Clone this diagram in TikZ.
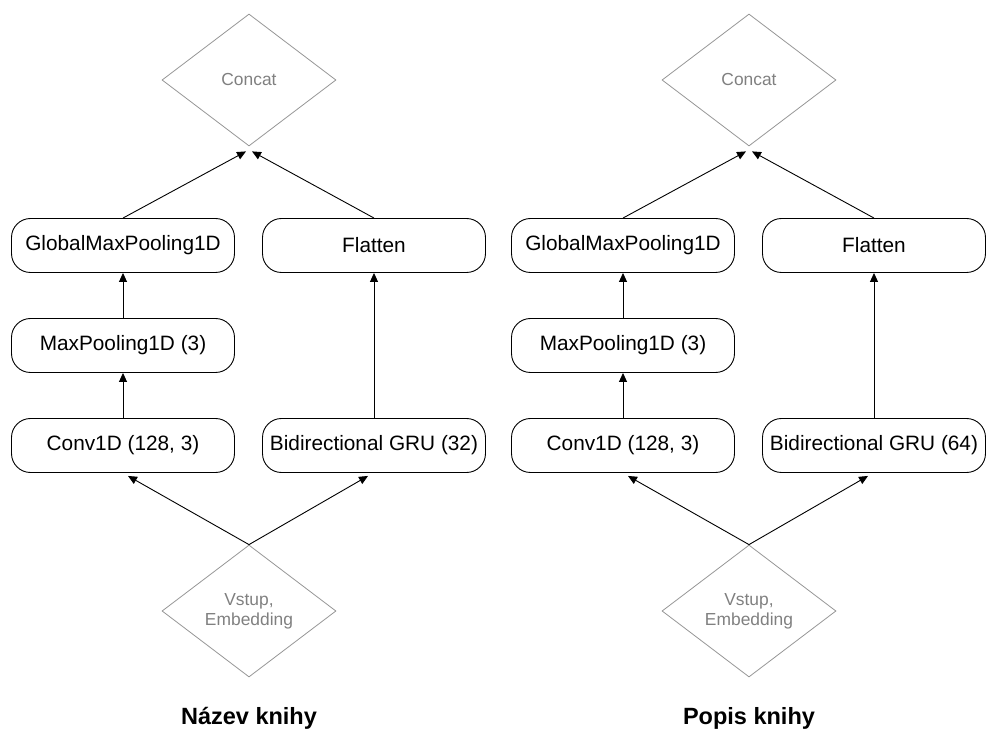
\documentclass[tikz,border=0pt]{standalone}
\usepackage{fontspec}
\setmainfont{Liberation Sans}
\usetikzlibrary{shapes.geometric,arrows.meta}
\definecolor{softgray}{RGB}{150,150,150}
\definecolor{labelgray}{RGB}{128,128,128}
\begin{document}
\begin{tikzpicture}[x=1pt,y=-1pt,
  layer/.style={draw=black,line width=0.9pt,rounded corners=19pt,
    minimum width=223pt,minimum height=54pt,inner sep=0pt,
    font=\fontsize{20.8}{24}\selectfont},
  junction/.style={draw=softgray,line width=0.8pt,diamond,shape aspect=1.32,
    minimum width=174pt,minimum height=132pt,inner sep=0pt,
    text=labelgray,align=center,font=\fontsize{17.4}{20}\selectfont},
  flow/.style={line width=0.9pt,-{Triangle[length=9pt,width=8pt]}},
  caption/.style={font=\fontsize{23.5}{27}\selectfont\bfseries}]
\useasboundingbox (0,0) rectangle (989,735);
\foreach \p/\dx/\units/\title in {L/0/32/Název knihy,R/500/64/Popis knihy}{
  \begin{scope}[xshift=\dx pt]
    \node[junction] (\p-cat) at (249,80) {Concat};
    \node[layer] (\p-gmp) at (123,245.5) {GlobalMaxPooling1D};
    \node[layer] (\p-flat) at (374,245.5) {Flatten};
    \node[layer] (\p-mp) at (123,345.5) {MaxPooling1D (3)};
    \node[layer] (\p-conv) at (123,445.5) {Conv1D (128, 3)};
    \node[layer] (\p-gru) at (374,445.5) {Bidirectional GRU (\units)};
    \node[junction] (\p-in) at (249,611) {Vstup,\\Embedding};
    \node[caption] (\p-title) at (249,718) {\title};
    \draw[flow] (\p-gmp.north) -- ([xshift=-3pt,yshift=-5pt]\p-cat.south);
    \draw[flow] (\p-flat.north) -- ([xshift=3pt,yshift=-5pt]\p-cat.south);
    \draw[flow] (\p-mp.north) -- (\p-gmp.south);
    \draw[flow] (\p-conv.north) -- (\p-mp.south);
    \draw[flow] (\p-gru.north) -- (\p-flat.south);
    \draw[flow] (\p-in.north) -- ([xshift=5pt,yshift=-3pt]\p-conv.south);
    \draw[flow] (\p-in.north) -- ([xshift=-6pt,yshift=-3pt]\p-gru.south);
  \end{scope}
}
\end{tikzpicture}
\end{document}
